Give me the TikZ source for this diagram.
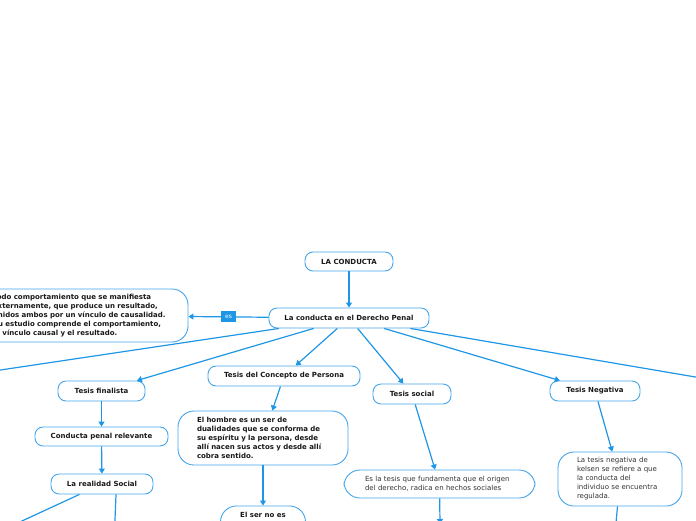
\documentclass[tikz,border=0pt]{standalone}
\usepackage{fontspec}
\setmainfont{DejaVu Sans}
\usepackage{tikz}
\usetikzlibrary{arrows.meta}
\definecolor{lblue}{RGB}{30,150,230}
\definecolor{bblue}{RGB}{70,165,235}
\definecolor{tdark}{RGB}{25,25,25}
\tikzset{
  cnode/.style={rectangle,rounded corners=8pt,draw=bblue,line width=0.9pt,fill=white,minimum height=20pt,inner sep=2pt,font=\fontsize{7}{9}\selectfont\bfseries,text=tdark},
  tnode/.style={rectangle,rounded corners=16pt,draw=bblue,line width=0.9pt,fill=white,inner xsep=19pt,inner ysep=4pt,align=left,font=\fontsize{7}{9}\selectfont\bfseries,text=tdark},
  pnode/.style={tnode,font=\fontsize{7}{9}\selectfont,text=black!80},
  de/.style={-{Triangle[length=5pt,width=6pt]},line width=1.2pt,draw=lblue},
  lbl/.style={fill=lblue,text=white,font=\fontsize{6}{7}\selectfont,inner xsep=3pt,inner ysep=2pt,minimum height=11pt,minimum width=15pt}
}

\begin{document}
\begin{tikzpicture}[x=1pt,y=-1pt]
\useasboundingbox (0,0) rectangle (696,520);
\clip (0,0) rectangle (696,520);
\node[cnode,minimum width=88pt,minimum height=19pt] (lc) at (349,261.5) {LA CONDUCTA};
\node[cnode,minimum width=160pt] (cdp) at (349,318) {La conducta en el Derecho Penal};
\node[tnode,text width=175pt,inner xsep=20pt,minimum height=53pt] (def) at (80.5,315.5)
  {Todo comportamiento que se manifiesta\\externamente, que produce un resultado,\\unidos ambos por un vínculo de causalidad.\\Su estudio comprende el comportamiento,\\el vínculo causal y el resultado.};
\node[cnode,minimum width=87pt] (fin) at (101.5,391) {Tesis finalista};
\node[cnode,minimum width=133pt,minimum height=19pt] (cpr) at (101.5,436.5) {Conducta penal relevante};
\node[cnode,minimum width=102pt] (rs) at (102,484) {La realidad Social};
\node[cnode,minimum width=152pt] (tcp) at (284,376) {Tesis del Concepto de Persona};
\node[tnode,text width=132pt,minimum height=54pt] (hom) at (263,438)
  {El hombre es un ser de\\dualidades que se conforma de\\su espíritu y la persona, desde\\allí nacen sus actos y desde allí\\cobra sentido.};
\node[cnode,rounded corners=16pt,anchor=north,minimum width=85pt,minimum height=50pt,text height=6pt,text depth=34pt,inner ysep=6pt] (ser) at (263,505.5) {El ser no es};
\node[cnode,minimum width=78pt] (soc) at (412,394) {Tesis social};
\node[pnode,text width=149pt,inner xsep=21pt,minimum height=28pt] (fun) at (439.5,484)
  {Es la tesis que fundamenta que el origen\\del derecho, radica en hechos sociales};
\node[cnode,minimum width=90pt] (neg) at (595,391) {Tesis Negativa};
\node[pnode,text width=86pt,minimum height=54pt] (kel) at (620,479)
  {La tesis negativa de\\kelsen se refiere a que\\la conducta del\\individuo se encuentra\\regulada.};
% ramas que salen del cuadro
\coordinate (lft) at (-60,379);
\coordinate (rgt) at (760,388);
\coordinate (rs1) at (-30,545);
\coordinate (rs2) at (114,545);
\coordinate (fun1) at (440,524);
\coordinate (kel1) at (614,545);
\draw[de] (lc) -- (cdp);
\draw[de] (cdp) -- node[lbl] {es} (def);
\draw[de] (cdp) -- (lft); \draw[de] (cdp) -- (rgt);
\draw[de] (cdp) -- (fin); \draw[de] (cdp) -- (tcp);
\draw[de] (cdp) -- (soc); \draw[de] (cdp) -- (neg);
\draw[de] (fin) -- (cpr); \draw[de] (cpr) -- (rs);
\draw[de] (rs) -- (rs1); \draw[de] ([xshift=14pt]rs.south) -- (rs2);
\draw[de] (tcp) -- (hom); \draw[de] (hom) -- (ser);
\draw[de] (soc) -- (fun); \draw[de] (fun) -- (fun1);
\draw[de] (neg) -- (kel); \draw[de] (kel) -- (kel1);
\end{tikzpicture}
\end{document}
